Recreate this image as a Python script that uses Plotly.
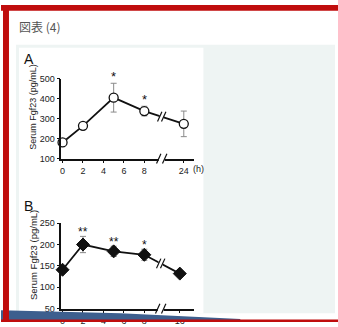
import plotly.graph_objects as go

W, H = 338, 327

# ---------------- data ----------------
hours_a = [0, 2, 5, 8, 24]
fgf23_a = [181, 264, 405, 338, 274]
err_a = [6, 6, 72, 24, 64]
stars_a = ["", "", "*", "*", ""]
ticks_a = [0, 2, 4, 6, 8, 24]

hours_b = [0, 2, 5, 8, 16]
fgf23_b = [141, 200, 184, 176, 132]
err_b = [5, 19, 12, 13, 4]
stars_b = ["", "**", "**", "*", ""]
ticks_b = [0, 2, 4, 6, 8, 16]

# axis-break mapping: hours after the break are drawn at a compressed position
LAST_A, LAST_B = 11.86, 11.47


def pos(h, last):
    return h if h <= 8 else last


FONT = "Liberation Sans, Arial, sans-serif"


def P(xpx, ypx):
    return xpx / W, 1 - ypx / H


fig = go.Figure()

# panel A
fig.add_trace(go.Scatter(
    x=[pos(h, LAST_A) for h in hours_a], y=fgf23_a,
    mode="lines+markers",
    line=dict(color="#111", width=1.8),
    marker=dict(symbol="circle", size=9, color="white", line=dict(color="#111", width=1.3)),
    error_y=dict(type="data", array=err_a, color="#8a8a8a", thickness=1, width=3),
    xaxis="x", yaxis="y", showlegend=False, cliponaxis=False))

# panel B
fig.add_trace(go.Scatter(
    x=[pos(h, LAST_B) for h in hours_b], y=fgf23_b,
    mode="lines+markers",
    line=dict(color="#111", width=1.8),
    marker=dict(symbol="diamond", size=10, color="#111", line=dict(color="#111", width=1)),
    error_y=dict(type="data", array=err_b, color="#8a8a8a", thickness=1, width=3),
    xaxis="x2", yaxis="y2", showlegend=False, cliponaxis=False))

xdom = [60.5 / W, 194 / W]
ydomA = [1 - 158.5 / H, 1 - 76 / H]
ydomB = [1 - 313.3 / H, 1 - 225 / H]

axcommon = dict(showline=True, linecolor="#111", linewidth=1.5, ticks="outside",
                ticklen=3, tickwidth=1.3, tickcolor="#111", showgrid=False, zeroline=False,
                tickfont=dict(family=FONT, size=9, color="#222"))

fig.update_layout(
    width=W, height=H, margin=dict(l=0, r=0, t=0, b=0),
    paper_bgcolor="white", plot_bgcolor="rgba(0,0,0,0)",
    xaxis=dict(domain=xdom, range=[-0.12, 12.9], tickmode="array",
               tickvals=[pos(t, LAST_A) for t in ticks_a], ticktext=[str(t) for t in ticks_a],
               anchor="y", **axcommon),
    yaxis=dict(domain=ydomA, range=[100, 500], tickvals=[100, 200, 300, 400, 500],
               anchor="x", **axcommon),
    xaxis2=dict(domain=xdom, range=[-0.12, 12.9], tickmode="array",
                tickvals=[pos(t, LAST_B) for t in ticks_b], ticktext=[str(t) for t in ticks_b],
                anchor="y2", **axcommon),
    yaxis2=dict(domain=ydomB, range=[50, 250], tickvals=[50, 100, 150, 200, 250],
                anchor="x2", **axcommon),
)

shapes = []
# background decoration
shapes.append(dict(type="rect", xref="paper", yref="paper", x0=15 / W, x1=335 / W,
                   y0=1 - 318 / H, y1=1 - 41 / H, fillcolor="#eef4f3", line=dict(width=0), layer="below"))
shapes.append(dict(type="rect", xref="paper", yref="paper", x0=18 / W, x1=203 / W,
                   y0=1 - 318 / H, y1=1 - 44 / H, fillcolor="white", line=dict(width=0), layer="below"))


# axis breaks (gap + slashes) drawn in pixel space
def brk(xc, yc, gap_w, col="#111"):
    x0, y0 = P(xc - gap_w / 2, yc + 3)
    x1, y1 = P(xc + gap_w / 2, yc - 3)
    shapes.append(dict(type="rect", xref="paper", yref="paper", x0=x0, x1=x1, y0=y0, y1=y1,
                       fillcolor="white", line=dict(width=0), layer="above"))
    for dx in (-gap_w / 2, gap_w / 2):
        a = P(xc + dx - 2.2, yc + 5)
        b = P(xc + dx + 2.2, yc - 5)
        shapes.append(dict(type="line", xref="paper", yref="paper", x0=a[0], y0=a[1], x1=b[0], y1=b[1],
                           line=dict(color=col, width=1.2), layer="above"))


def xpx(p):
    return xdom[0] * W + (p + 0.12) / 13.02 * (xdom[1] - xdom[0]) * W


def ypxA(v):
    return 158.5 - (v - 100) / 400 * 82.5


def ypxB(v):
    return 313.3 - (v - 50) / 200 * 88.3


BREAK = 9.7
# axis breaks
brk(xpx(BREAK), 158.5, 6)
brk(xpx(BREAK - 0.1), 313.3, 6)
# data-line breaks
ya = ypxA(fgf23_a[3] + (fgf23_a[4] - fgf23_a[3]) * (BREAK - 8) / (LAST_A - 8))
brk(xpx(BREAK), ya, 4)
yb = ypxB(fgf23_b[3] + (fgf23_b[4] - fgf23_b[3]) * (BREAK - 0.1 - 8) / (LAST_B - 8))
brk(xpx(BREAK - 0.1), yb, 4)

# frame: red bars and bottom band
shapes.append(dict(type="rect", xref="paper", yref="paper", x0=0, x1=1, y0=1 - 6 / H, y1=1,
                   fillcolor="#c00d0d", line=dict(width=0), layer="above"))
shapes.append(dict(type="path", xref="paper", yref="paper",
                   path=f"M 0 {1-315/H} L {120/W} {1-318/H} L {240/W} {1-324/H} L {240/W} {1-325/H} L 0 {1-325/H} Z",
                   fillcolor="#3d5f8e", line=dict(width=0), layer="above"))
shapes.append(dict(type="rect", xref="paper", yref="paper", x0=0, x1=1, y0=0, y1=2.5 / H,
                   fillcolor="#c00d0d", line=dict(width=0), layer="above"))
shapes.append(dict(type="rect", xref="paper", yref="paper", x0=2 / W, x1=8 / W, y0=0, y1=1,
                   fillcolor="#c00d0d", line=dict(width=0), layer="above"))
fig.update_layout(shapes=shapes)

ann = []
ann.append(dict(text="図表 (4)", xref="paper", yref="paper", x=16 / W, y=1 - 22 / H,
                xanchor="left", yanchor="middle", showarrow=False,
                font=dict(family="Noto Sans CJK JP", size=12, color="#555")))
ann.append(dict(text="A", xref="paper", yref="paper", x=21 / W, y=1 - 56 / H,
                xanchor="left", yanchor="middle", showarrow=False,
                font=dict(family=FONT, size=14, color="#111")))
ann.append(dict(text="B", xref="paper", yref="paper", x=21 / W, y=1 - 207 / H,
                xanchor="left", yanchor="middle", showarrow=False,
                font=dict(family=FONT, size=14, color="#111")))
for yc, fs in ((105, 9), (258, 9.5)):
    ann.append(dict(text="Serum Fgf23 (pg/mL)", xref="paper", yref="paper", x=32 / W, y=1 - yc / H,
                    xanchor="center", yanchor="middle", textangle=-90, showarrow=False,
                    font=dict(family=FONT, size=fs, color="#222")))
ann.append(dict(text="(h)", xref="paper", yref="paper", x=198 / W, y=1 - 169 / H,
                xanchor="center", yanchor="middle", showarrow=False,
                font=dict(family=FONT, size=9, color="#222")))
for h, v, e, s in zip(hours_a, fgf23_a, err_a, stars_a):
    if s:
        ann.append(dict(text=s, xref="x", yref="y", x=pos(h, LAST_A), y=v + e, yanchor="middle",
                        yshift=7, showarrow=False, font=dict(family=FONT, size=13, color="#111")))
for h, v, e, s in zip(hours_b, fgf23_b, err_b, stars_b):
    if s:
        ann.append(dict(text=s, xref="x2", yref="y2", x=pos(h, LAST_B), y=v + e, yanchor="middle",
                        yshift=4, showarrow=False, font=dict(family=FONT, size=12, color="#111")))
fig.update_layout(annotations=ann)

fig.write_html("out.html", config={"displayModeBar": False},
               post_script="document.body.style.margin='0';document.body.style.padding='0';")
